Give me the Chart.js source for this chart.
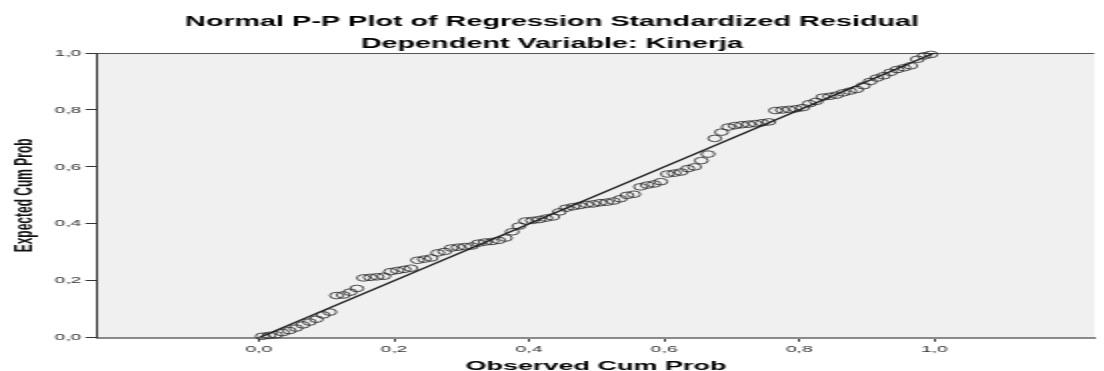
<!DOCTYPE html>
<html>
<head>
<meta charset="utf-8">
<script src="https://cdn.jsdelivr.net/npm/chart.js@4.4.1/dist/chart.umd.min.js"></script>
<style>
  html, body { margin: 0; padding: 0; background: #fff; }
  #wrap { width: 1104px; height: 371px; overflow: hidden; position: relative; }
  #c { transform: scaleX(2); transform-origin: 0 0; display: block; }
</style>
</head>
<body>
<div id="wrap"><canvas id="c" width="552" height="371"></canvas></div>
<script>
// ---- Data ----
const chartTitle = ["Normal P-P Plot of Regression Standardized Residual", "Dependent Variable: Kinerja"];
const xAxisTitle = "Observed Cum Prob";
const yAxisTitle = "Expected Cum Prob";

const observedCumProb = [
  0.005,0.015,0.025,0.035,0.045,0.055,0.065,0.075,0.085,0.095,
  0.105,0.115,0.125,0.135,0.145,0.155,0.165,0.175,0.185,0.195,
  0.205,0.215,0.225,0.235,0.245,0.255,0.265,0.275,0.285,0.295,
  0.305,0.315,0.325,0.335,0.345,0.355,0.365,0.375,0.385,0.395,
  0.405,0.415,0.425,0.435,0.445,0.455,0.465,0.475,0.485,0.495,
  0.505,0.515,0.525,0.535,0.545,0.555,0.565,0.575,0.585,0.595,
  0.605,0.615,0.625,0.635,0.645,0.655,0.665,0.675,0.685,0.695,
  0.705,0.715,0.725,0.735,0.745,0.755,0.765,0.775,0.785,0.795,
  0.805,0.815,0.825,0.835,0.845,0.855,0.865,0.875,0.885,0.895,
  0.905,0.915,0.925,0.935,0.945,0.955,0.965,0.975,0.985,0.995
];
const expectedCumProb = [
  0.005,0.008,0.010,0.018,0.025,0.034,0.045,0.055,0.065,0.080,
  0.090,0.148,0.150,0.160,0.173,0.210,0.212,0.214,0.216,0.232,
  0.236,0.240,0.244,0.272,0.276,0.280,0.298,0.303,0.315,0.318,
  0.320,0.322,0.332,0.336,0.338,0.342,0.350,0.372,0.392,0.410,
  0.412,0.415,0.420,0.424,0.442,0.455,0.460,0.464,0.468,0.470,
  0.474,0.476,0.480,0.488,0.500,0.504,0.530,0.536,0.540,0.548,
  0.575,0.578,0.582,0.594,0.600,0.622,0.645,0.700,0.722,0.740,
  0.745,0.748,0.750,0.752,0.755,0.758,0.798,0.800,0.802,0.804,
  0.808,0.822,0.830,0.845,0.848,0.852,0.860,0.866,0.872,0.885,
  0.900,0.912,0.920,0.932,0.942,0.948,0.955,0.978,0.990,0.995
];
const referenceLineX = [0, 1];
const referenceLineY = [0, 1];

const xTickValues = [0, 0.2, 0.4, 0.6, 0.8, 1.0];
const xTickLabels = ["0,0", "0,2", "0,4", "0,6", "0,8", "1,0"];
const yTickValues = [0, 0.2, 0.4, 0.6, 0.8, 1.0];
const yTickLabels = ["0,0", "0,2", "0,4", "0,6", "0,8", "1,0"];

// ---- Chart ----
const FONT = "'Liberation Sans', Arial, Helvetica, sans-serif";

const plotBg = {
  id: 'plotBg',
  beforeDraw(chart) {
    const {ctx, chartArea: a} = chart;
    ctx.save();
    ctx.fillStyle = '#f0f0f0';
    ctx.fillRect(a.left, a.top, a.right - a.left, a.bottom - a.top);
    ctx.strokeStyle = '#555555';
    ctx.lineWidth = 1;
    ctx.beginPath();
    ctx.moveTo(a.left, a.top + 0.5);
    ctx.lineTo(a.right, a.top + 0.5);
    ctx.stroke();
    ctx.restore();
  }
};

new Chart(document.getElementById('c'), {
  type: 'scatter',
  data: {
    datasets: [
      {
        label: 'Reference',
        data: referenceLineX.map((x, i) => ({x, y: referenceLineY[i]})),
        showLine: true,
        borderColor: '#1a1a1a',
        borderWidth: 1.3,
        pointRadius: 0,
        fill: false,
        order: 2
      },
      {
        label: 'Residual',
        data: observedCumProb.map((x, i) => ({x, y: expectedCumProb[i]})),
        pointStyle: 'circle',
        pointRadius: 3.3,
        borderWidth: 0.8,
        borderColor: '#222222',
        backgroundColor: 'rgba(0,0,0,0)',
        clip: false,
        order: 1
      }
    ]
  },
  options: {
    responsive: false,
    animation: false,
    devicePixelRatio: 1,
    layout: { padding: 0 },
    plugins: {
      legend: { display: false },
      tooltip: { enabled: false },
      title: {
        display: true,
        text: chartTitle,
        color: '#000',
        font: { family: FONT, size: 14.4, weight: 'bold', lineHeight: 22 / 14.4 },
        padding: { top: 11, bottom: -2 }
      }
    },
    scales: {
      x: {
        type: 'linear',
        min: -0.239,
        max: 1.237,
        afterBuildTicks: s => { s.ticks = xTickValues.map(v => ({value: v})); },
        afterFit: s => { s.height = 33.3; },
        ticks: {
          callback: (v, i) => xTickLabels[i],
          color: '#333',
          font: { family: FONT, size: 9.7 },
          padding: 1.5,
          maxRotation: 0,
          autoSkip: false
        },
        grid: { display: true, drawOnChartArea: false, drawTicks: true, tickLength: 4, color: '#333', lineWidth: 1 },
        border: { display: true, color: '#8a8a8a', width: 2 },
        title: {
          display: true,
          text: xAxisTitle,
          color: '#000',
          font: { family: FONT, size: 13.5, weight: 'bold', lineHeight: 1.2 },
          padding: { top: 0, bottom: -3 }
        }
      },
      y: {
        type: 'linear',
        min: 0,
        max: 1,
        afterBuildTicks: s => { s.ticks = yTickValues.map(v => ({value: v})); },
        afterFit: s => { s.width = 48.75; },
        ticks: {
          callback: (v, i) => yTickLabels[i],
          color: '#333',
          font: { family: FONT, size: 9.7 },
          padding: 2
        },
        grid: { display: true, drawOnChartArea: false, drawTicks: true, tickLength: 6, color: '#333', lineWidth: 1 },
        border: { display: true, color: '#333', width: 1 },
        title: {
          display: true,
          text: yAxisTitle,
          color: '#111',
          font: { family: FONT, size: 12, weight: 'bold', lineHeight: 1.2 },
          padding: { top: 5, bottom: 0 }
        }
      }
    }
  },
  plugins: [plotBg]
});
</script>
</body>
</html>
